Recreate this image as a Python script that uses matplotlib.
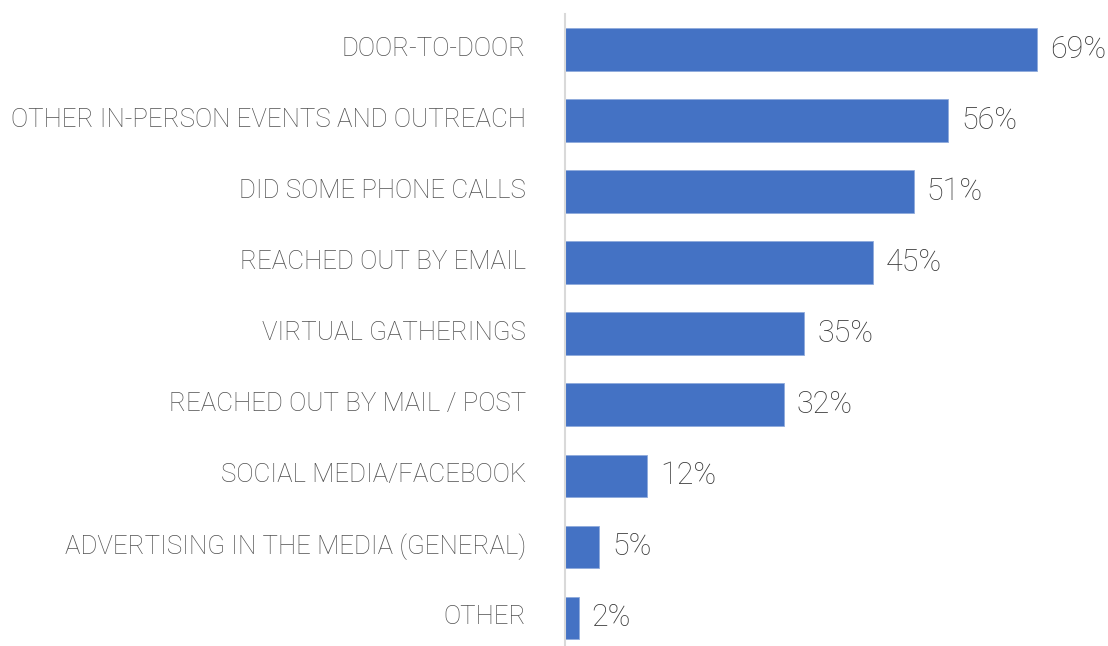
import matplotlib.pyplot as plt
import matplotlib.transforms as mtransforms

categories = [
    "DOOR-TO-DOOR",
    "OTHER IN-PERSON EVENTS AND OUTREACH",
    "DID SOME PHONE CALLS",
    "REACHED OUT BY EMAIL",
    "VIRTUAL GATHERINGS",
    "REACHED OUT BY MAIL / POST",
    "SOCIAL MEDIA/FACEBOOK",
    "ADVERTISING IN THE MEDIA (GENERAL)",
    "OTHER",
]
values = [69, 56, 51, 45, 35, 32, 12, 5, 2]

plt.rcParams['font.family'] = ['Roboto', 'DejaVu Sans']

fig = plt.figure(figsize=(11.08, 6.46), dpi=100)
ax = fig.add_axes([565 / 1108, 0.0, 1 - 565 / 1108, (646 - 14) / 646])

pos = list(range(len(categories)))
ax.barh(pos, values, height=0.6, color='#4472C4', edgecolor='#8FAADC', linewidth=0.6)

for y, v in zip(pos, values):
    ax.text(v + 1.9, y, f"{v}%", va='center', ha='left', fontsize=22,
            fontweight='light', color='#3a3a3a')

ax.set_yticks(pos)
ax.set_yticklabels(categories, fontsize=18.6, fontweight='light', color='#505050')
ax.tick_params(axis='y', length=0, pad=28)
# nudge the category labels up a little
shift = mtransforms.ScaledTranslation(0, 3 / 100, fig.dpi_scale_trans)
for lbl in ax.get_yticklabels():
    lbl.set_transform(lbl.get_transform() + shift)
ax.set_xticks([])
ax.set_xlim(0, 79.4)
ax.set_ylim(8 + 28 / 71, -0.5)

for side in ['top', 'right', 'bottom']:
    ax.spines[side].set_visible(False)
ax.spines['left'].set_color('#D9D9D9')
ax.spines['left'].set_linewidth(1.5)

fig.savefig('out.png', dpi=100, facecolor='white')
